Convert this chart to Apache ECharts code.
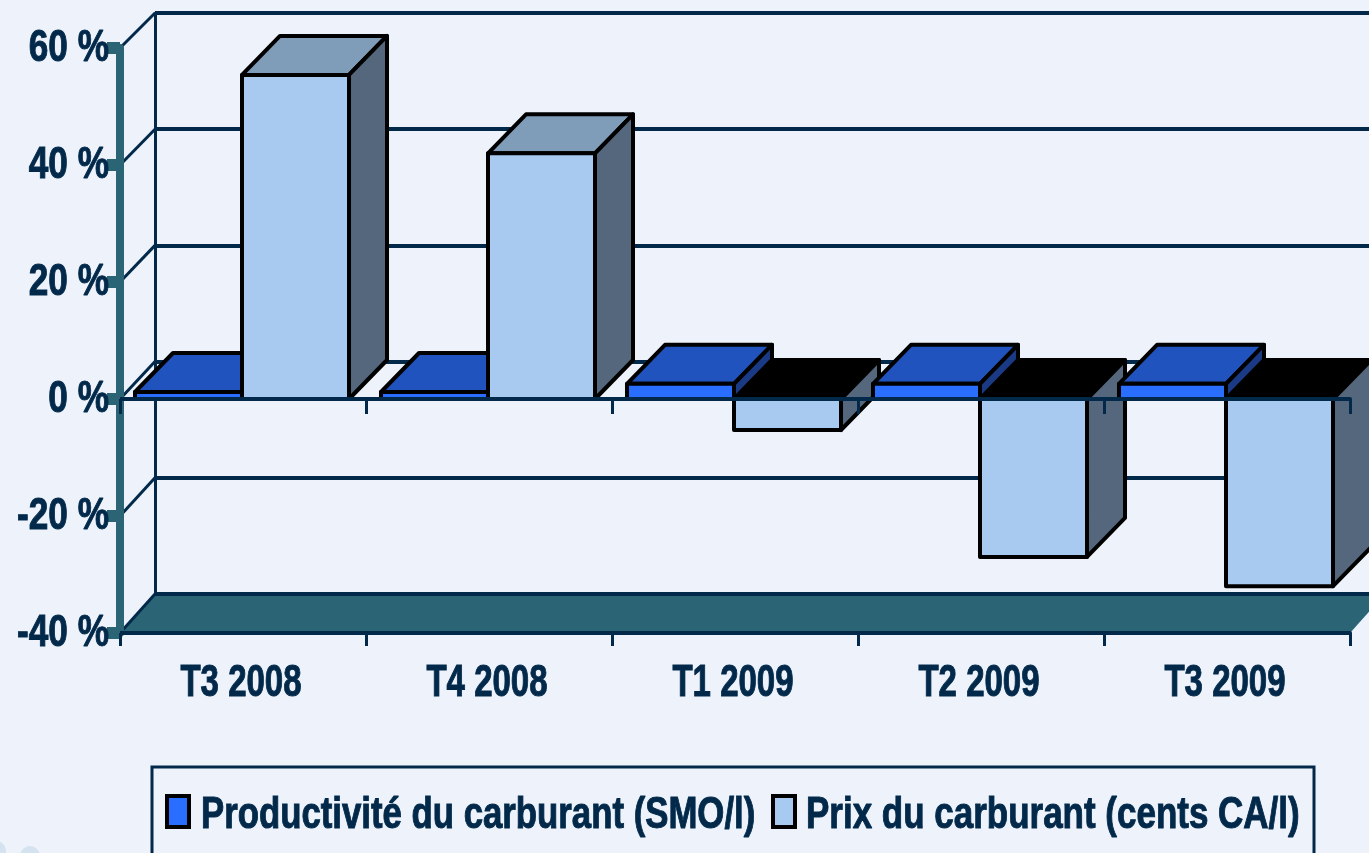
<!DOCTYPE html>
<html>
<head>
<meta charset="utf-8">
<title>Productivité et prix du carburant</title>
<script src="https://cdn.jsdelivr.net/npm/echarts@6/dist/echarts.min.js"></script>
<style>
  html, body { margin: 0; padding: 0; background: #eef3fb; }
  #t { width: 1369px; height: 853px; }
</style>
</head>
<body>
<div id="t"></div>
<script>
const categories = ['T3 2008', 'T4 2008', 'T1 2009', 'T2 2009', 'T3 2009']
const productivite = [1.2, 1.2, 2.6, 2.6, 2.6]
const prix = [55.4, 42, -5.3, -27, -32]
const yTicks = [-40, -20, 0, 20, 40, 60]
const nameProductivite = 'Productivité du carburant (SMO/l)'
const namePrix = 'Prix du carburant (cents CA/l)'

const navy = '#02294a'
const teal = '#2a6475'
const labelFont = 'bold 44px "Liberation Sans", Arial, sans-serif'
const depthX = 38
const depthY = 39

const charts = echarts.init(document.getElementById('t'))

// one 3d box: front face, top and side
function box (api, side, colors, z2) {
  const i = api.value(0)
  const v = api.value(1)
  const band = api.size([1, 0])[0]
  const w = band * 0.435
  const center = api.coord([i, 0])[0] - 1
  const x0 = side < 0 ? center - w : center
  const x1 = x0 + w
  const y0 = api.coord([i, 0])[1]
  const yv = api.coord([i, v])[1]
  const top = Math.min(y0, yv)
  const bot = Math.max(y0, yv)
  const stroke = { stroke: '#000', lineWidth: 4, lineJoin: 'round' }
  return {
    type: 'group',
    children: [
      {
        type: 'polygon',
        z2: z2,
        shape: { points: [[x0, top], [x0 + depthX, top - depthY], [x1 + depthX, top - depthY], [x1, top]] },
        style: Object.assign({ fill: v < 0 ? '#000' : colors.top }, stroke)
      },
      {
        type: 'polygon',
        z2: z2,
        shape: { points: [[x1, top], [x1 + depthX, top - depthY], [x1 + depthX, bot - depthY], [x1, bot]] },
        style: Object.assign({ fill: colors.side }, stroke)
      },
      {
        type: 'rect',
        z2: z2,
        shape: { x: x0, y: top, width: w, height: bot - top },
        style: Object.assign({ fill: colors.front }, stroke)
      }
    ]
  }
}

// the labels are narrow and tall in the picture, no installed font does that
function squeezed (text, x, y, scaleX, align) {
  return {
    type: 'text',
    x: x,
    y: y,
    scaleX: scaleX,
    silent: true,
    style: {
      text: text,
      font: labelFont,
      fill: navy,
      stroke: navy,
      lineWidth: 1,
      align: align,
      verticalAlign: 'middle'
    }
  }
}

charts.setOption({
  animation: false,
  backgroundColor: '#eef3fb',
  grid: [
    { left: 120, top: 48, width: 1230, height: 585, outerBoundsMode: 'none' },
    { left: 155, top: 13, right: 0, height: 581, outerBoundsMode: 'none' }
  ],
  xAxis: [
    {
      type: 'category',
      data: categories,
      position: 'bottom',
      z: 5,
      axisLine: { onZero: false, lineStyle: { color: navy, width: 4 } },
      axisTick: { show: true, length: 13, lineStyle: { color: navy, width: 3 } },
      axisLabel: { show: false }
    },
    {
      type: 'category',
      data: categories,
      position: 'bottom',
      z: 5,
      axisLine: { onZero: true, lineStyle: { color: navy, width: 4 } },
      axisTick: { show: true, length: 15, lineStyle: { color: navy, width: 3 } },
      axisLabel: { show: false }
    },
    {
      type: 'category',
      gridIndex: 1,
      data: categories,
      show: false
    }
  ],
  yAxis: [
    {
      type: 'value',
      min: -40,
      max: 60,
      interval: 20,
      z: 5,
      axisLine: { show: true, lineStyle: { color: teal, width: 8, cap: 'round' } },
      axisTick: { show: true, length: 13, lineStyle: { color: teal, width: 12 } },
      axisLabel: { show: false },
      splitLine: { show: false }
    },
    {
      type: 'value',
      gridIndex: 1,
      min: -40,
      max: 60,
      interval: 20,
      axisLine: { show: true, lineStyle: { color: navy, width: 3 } },
      axisTick: { show: false },
      axisLabel: { show: false },
      splitLine: { show: true, lineStyle: { color: navy, width: 4, type: 'solid' } }
    }
  ],
  graphic: [
    // legend box runs off the bottom of the picture
    { type: 'rect', silent: true, shape: { x: 152, y: 767, width: 1162, height: 130 }, style: { fill: 'none', stroke: navy, lineWidth: 3 } },
    { type: 'rect', silent: true, shape: { x: 167, y: 796, width: 22, height: 31 }, style: { fill: '#2a6eff', stroke: '#000', lineWidth: 4 } },
    { type: 'rect', silent: true, shape: { x: 773, y: 796, width: 22, height: 31 }, style: { fill: '#a8caf0', stroke: '#000', lineWidth: 4 } },
    squeezed(nameProductivite, 201, 816, 0.79, 'left'),
    squeezed(namePrix, 806, 816, 0.795, 'left'),
    { type: 'circle', silent: true, shape: { cx: -4, cy: 851, r: 10 }, style: { fill: '#d5e2ef' } },
    { type: 'circle', silent: true, shape: { cx: 30, cy: 856, r: 10 }, style: { fill: '#d5e2ef' } }
  ],
  series: [
    {
      // floor
      type: 'custom',
      silent: true,
      z: -1,
      data: [[0, -40]],
      renderItem (params, api) {
        const c = params.coordSys
        const yFront = api.coord([0, -40])[1]
        const yBack = charts.convertToPixel({ yAxisIndex: 1 }, -40)
        return {
          type: 'polygon',
          shape: {
            points: [[c.x, yFront], [c.x + 35, yBack], [c.x + c.width + 35, yBack], [c.x + c.width, yFront]]
          },
          style: { fill: teal }
        }
      }
    },
    {
      // side wall lines, front axis to back wall
      type: 'custom',
      silent: true,
      z: 1,
      data: yTicks.map(v => [0, v]),
      renderItem (params, api) {
        const c = params.coordSys
        const v = api.value(1)
        return {
          type: 'line',
          shape: { x1: c.x, y1: api.coord([0, v])[1], x2: c.x + 35, y2: charts.convertToPixel({ yAxisIndex: 1 }, v) },
          style: { stroke: navy, lineWidth: 3 }
        }
      }
    },
    {
      name: nameProductivite,
      type: 'custom',
      data: productivite.map((v, i) => [i, v]),
      renderItem (params, api) {
        return box(api, -1, { front: '#2a6eff', top: '#2053bd', side: '#1b3a85' }, 2)
      }
    },
    {
      name: namePrix,
      type: 'custom',
      data: prix.map((v, i) => [i, v]),
      renderItem (params, api) {
        // negative bars stay behind the thin blue ones
        const z2 = api.value(1) < 0 ? 1 : 3
        return box(api, 1, { front: '#a8caf0', top: '#7f9cb8', side: '#54677d' }, z2)
      }
    },
    {
      // y labels
      type: 'custom',
      silent: true,
      z: 6,
      data: yTicks.map(v => [0, v]),
      renderItem (params, api) {
        const v = api.value(1)
        return squeezed(v + ' %', params.coordSys.x - 11, api.coord([0, v])[1] + 1, 0.8, 'right')
      }
    },
    {
      // x labels
      type: 'custom',
      silent: true,
      z: 6,
      data: categories.map((c, i) => [i, -40]),
      renderItem (params, api) {
        const i = api.value(0)
        return squeezed(categories[i], api.coord([i, 0])[0] - 2, 684, 0.75, 'center')
      }
    }
  ]
})
</script>
</body>
</html>
